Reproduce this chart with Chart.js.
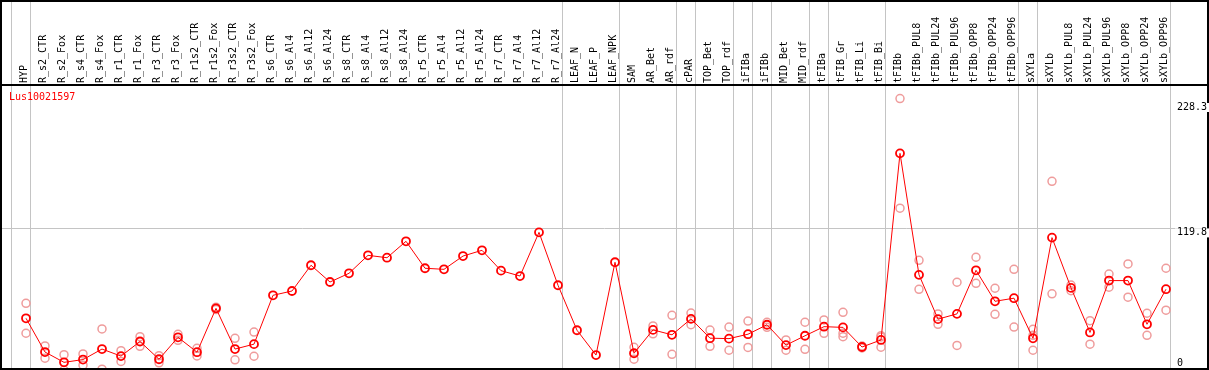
<!DOCTYPE html>
<html>
<head>
<meta charset="utf-8">
<script src="https://cdn.jsdelivr.net/npm/chart.js@4.4.1/dist/chart.umd.min.js"></script>
<style>
  html, body { margin: 0; padding: 0; background: #fff; }
  #wrap { width: 1209px; height: 370px; }
</style>
</head>
<body>
<div id="wrap"><canvas id="exprChart"></canvas></div>
<script>
const geneName = 'Lus10021597';

const samples = [
  'HYP', 'R_s2_CTR', 'R_s2_Fox', 'R_s4_CTR', 'R_s4_Fox', 'R_r1_CTR', 'R_r1_Fox', 'R_r3_CTR', 'R_r3_Fox',
  'R_r1s2_CTR', 'R_r1s2_Fox', 'R_r3s2_CTR', 'R_r3s2_Fox', 'R_s6_CTR', 'R_s6_Al4', 'R_s6_Al12', 'R_s6_Al24',
  'R_s8_CTR', 'R_s8_Al4', 'R_s8_Al12', 'R_s8_Al24', 'R_r5_CTR', 'R_r5_Al4', 'R_r5_Al12', 'R_r5_Al24',
  'R_r7_CTR', 'R_r7_Al4', 'R_r7_Al12', 'R_r7_Al24', 'LEAF_N', 'LEAF_P', 'LEAF_NPK', 'SAM', 'AR_Bet', 'AR_rdf',
  'cPAR', 'TOP_Bet', 'TOP_rdf', 'iFIBa', 'iFIBb', 'MID_Bet', 'MID_rdf', 'tFIBa', 'tFIB_Gr', 'tFIB_Li', 'tFIB_Bi',
  'tFIBb', 'tFIBb_PUL8', 'tFIBb_PUL24', 'tFIBb_PUL96', 'tFIBb_OPP8', 'tFIBb_OPP24', 'tFIBb_OPP96',
  'sXYLa', 'sXYLb', 'sXYLb_PUL8', 'sXYLb_PUL24', 'sXYLb_PUL96', 'sXYLb_OPP8', 'sXYLb_OPP24', 'sXYLb_OPP96'
];

// mean expression per sample
const means = [
  44.7, 16.5, 7.9, 10.2, 19.0, 13.1, 25.3, 10.5, 28.8,
  16.4, 53.0, 19.0, 23.1, 63.9, 67.5, 89.0, 75.0,
  82.3, 97.3, 95.3, 109.0, 86.5, 85.6, 96.7, 101.5,
  84.5, 80.0, 116.5, 72.3, 34.7, 14.0, 91.5, 15.5, 35.0, 30.9,
  44.2, 28.1, 27.7, 31.4, 39.3, 22.3, 30.1, 37.7, 37.1, 20.7, 26.6,
  182.5, 81.0, 44.0, 48.4, 84.8, 58.9, 61.5,
  28.0, 112.1, 70.1, 32.9, 76.2, 76.2, 39.7, 69.0
];

// single replicates (null = none shown)
const rep1 = [
  57.2, 21.6, 14.3, 14.9, 35.8, 17.6, 29.3, 13.5, 31.3,
  19.6, 54.0, 28.0, 33.2, null, null, null, null,
  null, null, null, null, null, null, null, null,
  null, null, null, null, null, null, null, 20.5, 38.3, 47.2,
  49.1, 34.9, 37.4, 42.4, 41.4, 26.6, 41.4, 43.3, 49.7, 21.5, 30.2,
  228.3, 93.1, 48.3, 74.8, 95.7, 69.8, 85.6,
  35.5, 159.1, 72.5, 42.7, 81.7, 90.1, 48.9, 86.5
];
const rep2 = [
  32.2, 11.4, 1.5, 5.5, 2.2, 8.6, 21.3, 7.5, 26.3,
  13.2, 52.0, 10.0, 13.0, null, null, null, null,
  null, null, null, null, null, null, null, null,
  null, null, null, null, null, null, null, 10.5, 31.7, 14.6,
  39.3, 21.3, 18.0, 20.4, 37.2, 18.0, 18.8, 32.1, 32.2, 19.9, 20.5,
  136.7, 68.9, 39.7, 22.0, 73.9, 48.0, 37.4,
  18.0, 65.1, 67.7, 23.1, 70.7, 62.3, 30.5, 51.5
];
const rep3 = [
  null, null, null, null, null, null, null, null, null,
  null, null, null, null, null, null, null, null,
  null, null, null, null, null, null, null, null,
  null, null, null, null, null, null, null, null, null, null,
  null, null, null, null, null, null, null, null, 29.3, null, 29.1,
  null, null, null, null, null, null, null,
  30.5, null, null, null, null, null, null, null
];

const yTicks = [0, 119.8, 228.3];
// sample groups end after these indexes
const groupBreaks = [-1, 0, 28, 31, 34, 35, 37, 38, 39, 41, 42, 45, 52, 53, 60];

const meanPoints = means.map((v, i) => ({ x: i, y: v }));
const repPoints = [];
[rep1, rep2, rep3].forEach(arr => {
  arr.forEach((v, i) => { if (v !== null) repPoints.push({ x: i, y: v }); });
});

const monoFont = 'DejaVu Sans Mono';

const framePlugin = {
  id: 'frame',
  beforeDatasetsDraw(chart) {
    const ctx = chart.ctx;
    const x = chart.scales.x;
    ctx.save();
    ctx.strokeStyle = '#c4c4c4';
    ctx.lineWidth = 1;
    groupBreaks.forEach(b => {
      const px = Math.floor(x.getPixelForValue(b + 0.25)) + 0.5;
      ctx.beginPath();
      ctx.moveTo(px, 0);
      ctx.lineTo(px, chart.height);
      ctx.stroke();
    });
    ctx.restore();
  },
  afterDraw(chart) {
    const ctx = chart.ctx;
    const y = chart.scales.y;
    const area = chart.chartArea;
    ctx.save();
    // outer box and header line
    ctx.strokeStyle = '#000';
    ctx.lineWidth = 2;
    ctx.strokeRect(1, 1, chart.width - 2, chart.height - 2);
    ctx.beginPath();
    ctx.moveTo(0, area.top);
    ctx.lineTo(chart.width, area.top);
    ctx.stroke();

    ctx.font = '10px "' + monoFont + '"';
    ctx.textBaseline = 'middle';
    ctx.textAlign = 'left';

    // gene name
    ctx.fillStyle = '#ff0000';
    ctx.fillText(geneName, 9, 97);

    // value labels at the right
    yTicks.forEach(v => {
      let py = y.getPixelForValue(v) + 4;
      py = Math.min(Math.max(py, area.top + 22), chart.height - 7);
      const label = String(v);
      const w = ctx.measureText(label).width;
      ctx.fillStyle = '#fff';
      ctx.fillRect(1175, py - 4, w + 4, 9);
      ctx.fillStyle = '#000';
      ctx.fillText(label, 1177, py);
    });
    ctx.restore();
  }
};

const exprConfig = {
  type: 'scatter',
  data: {
    datasets: [
      {
        label: 'mean',
        data: meanPoints,
        showLine: true,
        borderColor: '#ff0000',
        borderWidth: 1,
        pointRadius: 4,
        pointBorderWidth: 1.8,
        pointBorderColor: '#ff0000',
        pointBackgroundColor: 'rgba(0,0,0,0)',
        tension: 0,
        order: 0
      },
      {
        label: 'replicates',
        data: repPoints,
        showLine: false,
        pointRadius: 4,
        pointBorderWidth: 1.5,
        pointBorderColor: '#ef9c9c',
        pointBackgroundColor: 'rgba(0,0,0,0)',
        order: 1
      }
    ]
  },
  options: {
    responsive: true,
    maintainAspectRatio: false,
    animation: false,
    layout: { padding: 0, autoPadding: false },
    plugins: {
      legend: { display: false },
      tooltip: { enabled: false }
    },
    scales: {
      x: {
        type: 'linear',
        position: 'top',
        min: -26 / 19,
        max: (1209 - 26) / 19,
        afterBuildTicks: scale => { scale.ticks = samples.map((_, i) => ({ value: i })); },
        afterFit: scale => { scale.height = 85; },
        grid: { display: false, drawTicks: false },
        border: { display: false },
        ticks: {
          autoSkip: false,
          minRotation: 90,
          maxRotation: 90,
          padding: 2,
          labelOffset: 10,
          color: '#000',
          font: { family: monoFont, size: 10 },
          callback: v => samples[v]
        }
      },
      y: {
        type: 'linear',
        min: 1.5,
        max: 239.6,
        afterBuildTicks: scale => { scale.ticks = yTicks.map(v => ({ value: v })); },
        afterFit: scale => { scale.width = 0; },
        ticks: { display: false },
        grid: {
          drawTicks: false,
          lineWidth: 1,
          color: c => (c.tick && c.tick.value === 119.8) ? '#c4c4c4' : 'rgba(0,0,0,0)'
        },
        border: { display: false }
      }
    }
  },
  plugins: [framePlugin]
};

const exprChart = new Chart(document.getElementById('exprChart'), exprConfig);
</script>
</body>
</html>
